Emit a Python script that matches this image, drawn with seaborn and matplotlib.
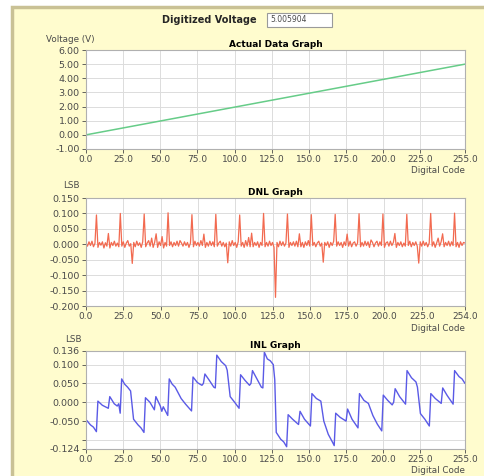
import matplotlib
matplotlib.use("Agg")
import matplotlib.pyplot as plt
from matplotlib.patches import Rectangle
from matplotlib.ticker import FormatStrFormatter
import seaborn as sns
import pandas as pd

# ---- data ----
digitized_voltage = "5.005904"

actual_codes = [0, 255]
actual_volts = [0.0, 5.0]

dnl_values = [
    0.004, -0.006, 0.008, -0.004, 0.010, -0.008, 0.003, 0.095, -0.010, 0.006, -0.003, 0.008, -0.012, 0.005, -0.006, 0.035,
    -0.012, 0.006, -0.004, 0.010, -0.006, 0.004, -0.008, 0.100, -0.006, 0.008, -0.010, 0.004, 0.012, -0.006, 0.002, -0.062,
    0.006, -0.008, 0.010, -0.004, 0.005, -0.010, 0.008, 0.098, -0.008, 0.004, 0.012, -0.006, 0.020, -0.010, 0.006, 0.034,
    -0.010, 0.008, -0.004, 0.025, -0.012, 0.006, -0.006, 0.102, -0.004, 0.008, -0.008, 0.006, -0.004, 0.010, -0.006, 0.012,
    0.004, -0.006, 0.008, -0.004, 0.006, -0.010, 0.004, 0.096, -0.008, 0.010, -0.004, 0.006, -0.006, 0.012, -0.004, 0.033,
    -0.010, 0.006, -0.006, 0.010, -0.004, 0.008, -0.008, 0.097, -0.006, 0.004, 0.010, -0.006, 0.006, -0.008, 0.004, -0.060,
    0.008, -0.006, 0.012, -0.004, 0.006, -0.010, 0.008, 0.095, -0.006, 0.006, -0.010, 0.012, -0.006, 0.022, -0.008, 0.036,
    -0.008, 0.006, -0.004, 0.008, -0.010, 0.006, -0.004, 0.100, -0.008, 0.006, -0.006, 0.010, -0.004, 0.006, -0.010, -0.172,
    0.006, -0.008, 0.010, -0.004, 0.008, -0.006, 0.004, 0.098, -0.010, 0.006, -0.004, 0.008, -0.006, 0.010, -0.008, 0.034,
    -0.008, 0.006, -0.010, 0.008, -0.004, 0.012, -0.006, 0.096, -0.004, 0.006, -0.008, 0.004, 0.010, -0.006, 0.004, -0.058,
    0.006, -0.004, 0.008, -0.010, 0.006, -0.004, 0.010, 0.097, -0.006, 0.008, -0.004, 0.006, -0.010, 0.008, -0.004, 0.033,
    -0.006, 0.010, -0.008, 0.004, 0.008, -0.006, 0.004, 0.099, -0.008, 0.006, -0.006, 0.010, -0.004, 0.008, -0.010, 0.014,
    0.006, -0.008, 0.004, 0.010, -0.006, 0.008, -0.004, 0.098, -0.010, 0.004, 0.008, -0.006, 0.010, -0.004, 0.006, 0.035,
    -0.010, 0.006, -0.004, 0.008, -0.008, 0.004, -0.006, 0.097, -0.004, 0.010, -0.008, 0.006, -0.004, 0.008, -0.006, -0.061,
    0.008, -0.006, 0.010, -0.004, 0.006, -0.008, 0.004, 0.100, -0.006, 0.008, -0.010, 0.004, 0.020, -0.006, 0.008, 0.034,
    -0.008, 0.006, -0.004, 0.010, -0.006, 0.008, -0.004, 0.101, -0.008, 0.006, -0.010, 0.008, -0.004, 0.006, 0.004,
]
dnl_codes = list(range(len(dnl_values)))

inl_codes = [0, 3, 5, 7, 8, 11, 15, 16, 19, 21, 22, 23,
             24, 26, 28, 30, 32, 35, 37, 39, 40, 43, 46, 47, 50, 51, 52, 55,
             56, 58, 60, 64, 67, 71, 72, 75, 78, 79, 80, 83, 86, 87,
             88, 91, 94, 95, 97, 100, 103, 104, 107, 110, 111, 112, 115, 118, 119,
             120, 122, 124, 126, 127, 128, 131, 133, 135, 136, 139, 143, 144, 147, 151,
             152, 155, 158, 160, 163, 166, 167, 168, 171, 175, 176, 179, 183,
             184, 187, 190, 193, 196, 199, 200, 203, 206, 207, 208, 211, 215,
             216, 219, 222, 223, 225, 228, 231, 232, 235, 239, 240, 243, 247,
             248, 251, 253, 255]
inl_values = [-0.046, -0.060, -0.066, -0.078, 0.003, -0.008, -0.016, 0.015, -0.004, -0.010, -0.004, -0.029,
              0.062, 0.048, 0.040, 0.030, -0.045, -0.060, -0.068, -0.080, 0.012, 0.000, -0.020, 0.015, -0.010, -0.024, -0.012, -0.035,
              0.062, 0.048, 0.040, 0.010, -0.005, -0.023, 0.067, 0.052, 0.045, 0.050, 0.075, 0.058, 0.040, 0.038,
              0.125, 0.108, 0.097, 0.085, 0.015, 0.000, -0.016, 0.073, 0.058, 0.045, 0.050, 0.084, 0.062, 0.040, 0.038,
              0.133, 0.115, 0.110, 0.100, 0.060, -0.080, -0.098, -0.105, -0.118, -0.033, -0.045, -0.059, -0.024, -0.045, -0.063,
              0.023, 0.010, 0.003, -0.050, -0.085, -0.107, -0.115, -0.029, -0.040, -0.050, -0.018, -0.045, -0.068,
              0.023, 0.005, -0.003, -0.035, -0.058, -0.076, 0.019, 0.005, -0.007, 0.000, 0.036, 0.015, -0.005,
              0.084, 0.065, 0.054, 0.040, -0.030, -0.045, -0.063, 0.023, 0.010, -0.003, 0.038, 0.018, -0.005,
              0.084, 0.068, 0.062, 0.050]

x_ticks_255 = [0, 25, 50, 75, 100, 125, 150, 175, 200, 225, 255]
x_ticks_254 = [0, 25, 50, 75, 100, 125, 150, 175, 200, 225, 254]
volt_ticks = [6, 5, 4, 3, 2, 1, 0, -1]
dnl_ticks = [0.15, 0.10, 0.05, 0.0, -0.05, -0.10, -0.15, -0.20]
inl_ticks = [0.136, 0.100, 0.050, 0.000, -0.050, -0.100, -0.124]
inl_tick_labels = ["0.136", "0.100", "0.050", "0.000", "-0.050", "", "-0.124"]

# ---- figure ----
sns.set_style("whitegrid")
plt.rcParams['font.family'] = ['DejaVu Sans']

W, H = 485, 476
fig = plt.figure(figsize=(W / 100, H / 100), dpi=100, facecolor="white")
cream = "#fffcce"
fig.patches.append(Rectangle((12 / W, -0.1), 1.2, 1 - 7 / H + 0.1, transform=fig.transFigure,
                             facecolor=cream, edgecolor="#c9c195", linewidth=2.5, zorder=-10))

def px_axes(top, bottom, left=86, right=465):
    return fig.add_axes([left / W, 1 - bottom / H, (right - left) / W, (bottom - top) / H])

tick_col = "#4a4a4a"

def style(ax, title, ylabel, xticks, ylabel_y):
    ax.set_facecolor("white")
    ax.grid(True, color="#dcdcdc", linewidth=0.7)
    for s in ax.spines.values():
        s.set_color("#b0b0b0")
        s.set_linewidth(0.8)
    ax.tick_params(axis="both", labelsize=6.8, colors=tick_col, length=3, width=0.6,
                   direction="out", pad=1.5, left=True, bottom=True)
    ax.tick_params(axis="x", labelsize=6.5)
    ax.set_xticks(xticks)
    ax.xaxis.set_major_formatter(FormatStrFormatter("%.1f"))
    ax.set_xlabel("")
    ax.set_ylabel("")
    ax.set_title(title, fontsize=6.5, fontweight="bold", pad=2, color="black")
    ax.text(1.0, -0.17, "Digital Code", transform=ax.transAxes, ha="right", va="top",
            fontsize=6.3, color=tick_col)
    fig.text(ylabel_y[0] / W, 1 - ylabel_y[1] / H, ylabel, fontsize=6.3, color=tick_col,
             ha="center", va="center")

# Actual data graph
ax1 = px_axes(50, 149)
sns.lineplot(x=actual_codes, y=actual_volts, ax=ax1, color="#66cc88", linewidth=1.1)
ax1.set_xlim(0, 255)
ax1.set_ylim(-1, 6)
ax1.set_yticks(volt_ticks)
ax1.yaxis.set_major_formatter(FormatStrFormatter("%.2f"))
style(ax1, "Actual Data Graph", "Voltage (V)", x_ticks_255, (70, 40))

# DNL graph
ax2 = px_axes(198, 306)
dnl_df = pd.DataFrame({"code": dnl_codes, "dnl": dnl_values})
sns.lineplot(data=dnl_df, x="code", y="dnl", ax=ax2, color="#f26a50", linewidth=0.9,
             estimator=None, sort=False)
ax2.set_xlim(0, 254)
ax2.set_ylim(-0.2, 0.15)
ax2.set_yticks(dnl_ticks)
ax2.yaxis.set_major_formatter(FormatStrFormatter("%.3f"))
style(ax2, "DNL Graph", "LSB", x_ticks_254, (71, 186))

# INL graph
ax3 = px_axes(351, 449)
inl_df = pd.DataFrame({"code": inl_codes, "inl": inl_values})
sns.lineplot(data=inl_df, x="code", y="inl", ax=ax3, color="#5a5ae6", linewidth=1.0,
             estimator=None, sort=False)
ax3.set_xlim(0, 255)
ax3.set_ylim(-0.124, 0.136)
ax3.set_yticks(inl_ticks)
ax3.set_yticklabels(inl_tick_labels)
style(ax3, "INL Graph", "LSB", x_ticks_255, (73, 339))

# header
fig.text(209 / W, 1 - 20 / H, "Digitized Voltage", fontsize=7, fontweight="bold",
         ha="center", va="center")
fig.patches.append(Rectangle((267 / W, 1 - 27 / H), 65 / W, 14 / H, transform=fig.transFigure,
                             facecolor="white", edgecolor="#9a9a9a", linewidth=0.8, zorder=2))
fig.text(270 / W, 1 - 20 / H, digitized_voltage, fontsize=5.5, color=tick_col,
         ha="left", va="center", zorder=3)

fig.savefig("out.png", dpi=100, facecolor=fig.get_facecolor())
